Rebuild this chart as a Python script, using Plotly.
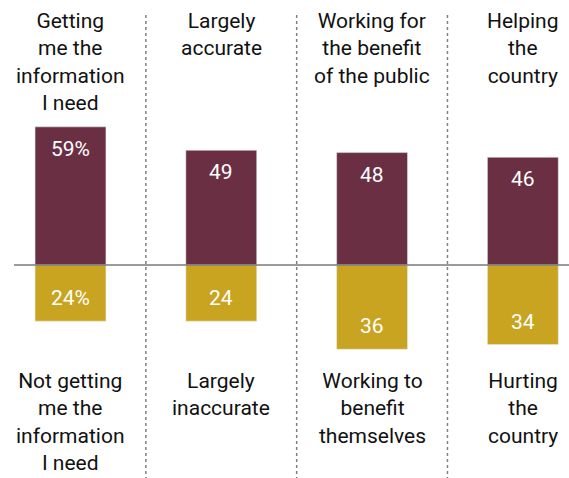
import plotly.graph_objects as go

top_labels = ["Getting<br>me the<br>information<br>I need", "Largely<br>accurate",
              "Working for<br>the benefit<br>of the public", "Helping<br>the<br>country"]
bottom_labels = ["Not getting<br>me the<br>information<br>I need", "Largely<br>inaccurate",
                 "Working to<br>benefit<br>themselves", "Hurting<br>the<br>country"]
positive = [59, 49, 48, 46]
negative = [24, 24, 36, 34]
pos_text = ["59%", "49", "48", "46"]
neg_text = ["24%", "24", "36", "34"]

x = list(range(len(positive)))
MAROON = "#6A2F43"
GOLD = "#C9A420"
FONT = "Roboto"

fig = go.Figure()
fig.add_bar(x=x, y=positive, marker_color=MAROON, width=0.47, hoverinfo="skip")
fig.add_bar(x=x, y=[-v for v in negative], marker_color=GOLD, width=0.47, hoverinfo="skip")

annotations = []
for i in x:
    annotations.append(dict(x=i, y=0.985, xref="x", yref="paper", yanchor="top",
                            text=top_labels[i], showarrow=False,
                            font=dict(family=FONT, size=21, color="#111")))
    annotations.append(dict(x=i, y=0.232, xref="x", yref="paper", yanchor="top",
                            text=bottom_labels[i], showarrow=False,
                            font=dict(family=FONT, size=21, color="#111")))
    annotations.append(dict(x=i, y=positive[i], xref="x", yref="y", yanchor="middle",
                            yshift=-22, text=pos_text[i], showarrow=False,
                            font=dict(family=FONT, size=21, color="#FFFFFF")))
    annotations.append(dict(x=i, y=-negative[i], xref="x", yref="y", yanchor="middle",
                            yshift=23, text=neg_text[i], showarrow=False,
                            font=dict(family=FONT, size=21, color="#FFFFFF")))

shapes = [dict(type="line", x0=-0.375, x1=3.31, y0=0, y1=0, xref="x", yref="y",
               line=dict(color="#7a7a7a", width=1.5))]
for sep in [0.5, 1.5, 2.5]:
    shapes.append(dict(type="line", x0=sep, x1=sep, y0=1 - 15 / 478, y1=0, xref="x", yref="paper",
                       line=dict(color="#808080", width=1.5, dash="dot")))

fig.update_layout(
    width=569, height=478,
    margin=dict(l=0, r=0, t=0, b=0),
    paper_bgcolor="white", plot_bgcolor="white",
    barmode="relative", showlegend=False,
    xaxis=dict(range=[-0.4675, 3.306], visible=False),
    yaxis=dict(range=[-91, 113.2], visible=False),
    annotations=annotations, shapes=shapes,
)
fig.write_html("out.html")
